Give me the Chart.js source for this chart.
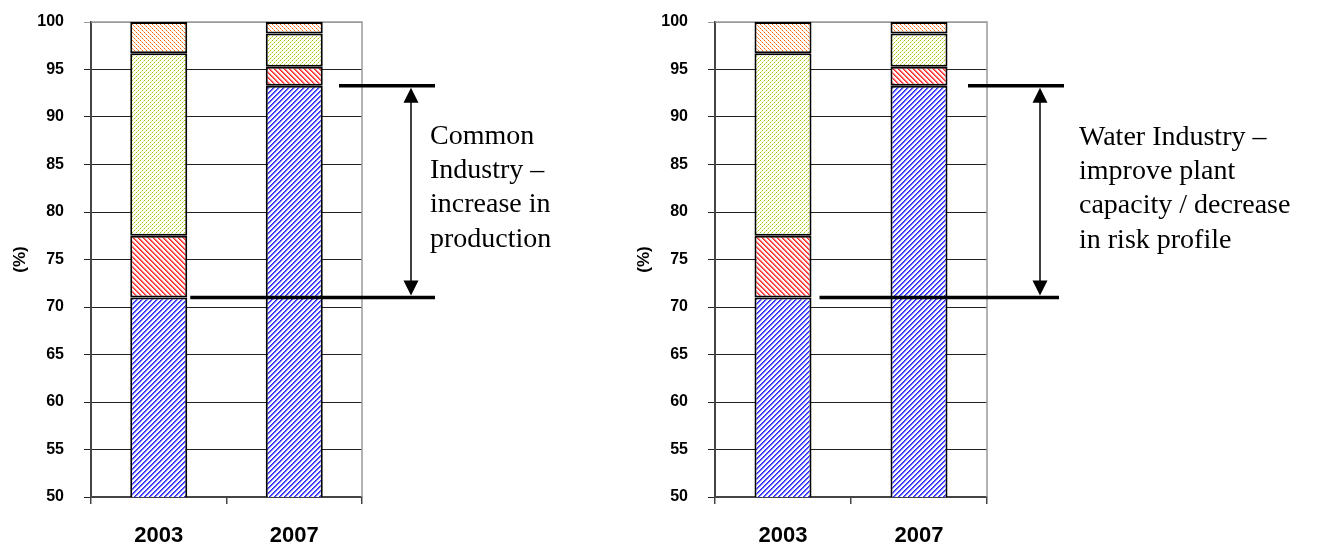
<!DOCTYPE html>
<html>
<head>
<meta charset="utf-8">
<script src="https://cdn.jsdelivr.net/npm/chart.js@4.4.1/dist/chart.umd.min.js"></script>
<style>
  html, body { margin: 0; padding: 0; background: #fff; overflow: hidden; }
  #wrap { position: relative; width: 1319px; height: 547px; }
  canvas { position: absolute; top: 0; }
</style>
</head>
<body>
<div id="wrap">
  <canvas id="common" width="624" height="547" style="left:0px"></canvas>
  <canvas id="water" width="695" height="547" style="left:624px"></canvas>
</div>
<script>
// Share of plant capacity by band, per year (percent, stacked to 100)
const categories = ['2003', '2007'];
const seriesBlue = [71.0, 93.3];
const seriesRed = [6.5, 2.0];
const seriesGreen = [19.2, 3.5];
const seriesOrange = [3.3, 1.2];
const yTickValues = [50, 55, 60, 65, 70, 75, 80, 85, 90, 95, 100];
const commonNote = ['Common', 'Industry \u2013', 'increase in', 'production'];
const waterNote = ['Water Industry \u2013', 'improve plant', 'capacity / decrease', 'in risk profile'];

const SANS = '"Liberation Sans", Arial, sans-serif';
const SERIF = '"Liberation Serif", "Times New Roman", serif';

// Pixel hatch tiles built from a per-pixel painter
function hatch(ctx, size, painter) {
  const c = document.createElement('canvas');
  c.width = size; c.height = size;
  const g = c.getContext('2d');
  const img = g.createImageData(size, size);
  for (let y = 0; y < size; y++) {
    for (let x = 0; x < size; x++) {
      const col = painter(x, y) || [255, 255, 255];
      const i = (y * size + x) * 4;
      img.data[i] = col[0]; img.data[i + 1] = col[1]; img.data[i + 2] = col[2]; img.data[i + 3] = 255;
    }
  }
  g.putImageData(img, 0, 0);
  return ctx.createPattern(c, 'repeat');
}
const mod = (a, n) => ((a % n) + n) % n;

function makePatterns(ctx) {
  return {
    blue: hatch(ctx, 5, (x, y) => {
      const k = mod(x + y, 5);
      return k === 0 ? [40, 40, 255] : k === 1 ? [90, 90, 255] : k === 2 ? [205, 205, 255] : null;
    }),
    red: hatch(ctx, 5, (x, y) => {
      const k = mod(x - y, 5);
      return k === 0 ? [255, 40, 40] : k === 1 ? [255, 100, 100] : k === 2 ? [255, 205, 205] : null;
    }),
    green: hatch(ctx, 4, (x, y) => {
      const k = mod(x + y, 4);
      if (k === 0) return x % 2 === 0 ? [160, 200, 0] : [215, 232, 140];
      return null;
    }),
    orange: hatch(ctx, 4, (x, y) => {
      const k = mod(x - y, 4);
      if (k === 0) return x % 2 === 0 ? [255, 100, 0] : [255, 175, 120];
      return null;
    })
  };
}

// Gray frame on the top and right of the plot area
const framePlugin = {
  id: 'frame',
  beforeDatasetsDraw(chart) {
    const { ctx, chartArea: a } = chart;
    ctx.save();
    ctx.strokeStyle = '#9a9a9a';
    ctx.lineWidth = 1.5;
    ctx.beginPath();
    ctx.moveTo(a.left, a.top);
    ctx.lineTo(a.right, a.top);
    ctx.lineTo(a.right, a.bottom);
    ctx.stroke();
    ctx.restore();
  }
};

// Bracket with double arrow between two levels, plus a note
const bracketPlugin = {
  id: 'bracket',
  afterDraw(chart, args, o) {
    const { ctx, chartArea: a } = chart;
    const ys = chart.scales.y;
    const topY = ys.getPixelForValue(o.topValue);
    const botY = ys.getPixelForValue(o.bottomValue);
    const bar = chart.getDatasetMeta(0).data[0];
    const botFrom = bar.x + bar.width / 2 + o.gap;
    ctx.save();
    ctx.strokeStyle = '#000';
    ctx.fillStyle = '#000';
    ctx.lineWidth = 3.5;
    ctx.beginPath();
    ctx.moveTo(a.right + o.topFrom, topY); ctx.lineTo(a.right + o.topTo, topY);
    ctx.moveTo(botFrom, botY); ctx.lineTo(a.right + o.botTo, botY);
    ctx.stroke();
    const ax = a.right + o.arrowX;
    const head = 15, half = 7.5;
    ctx.lineWidth = 1.5;
    ctx.beginPath();
    ctx.moveTo(ax, topY + head); ctx.lineTo(ax, botY - head);
    ctx.stroke();
    ctx.beginPath();
    ctx.moveTo(ax, topY + 2); ctx.lineTo(ax - half, topY + 2 + head); ctx.lineTo(ax + half, topY + 2 + head); ctx.closePath();
    ctx.moveTo(ax, botY - 2); ctx.lineTo(ax - half, botY - 2 - head); ctx.lineTo(ax + half, botY - 2 - head); ctx.closePath();
    ctx.fill();
    ctx.font = '28px ' + SERIF;
    ctx.textAlign = 'left';
    ctx.textBaseline = 'alphabetic';
    o.lines.forEach((t, i) => ctx.fillText(t, a.right + o.textX, o.textTop + i * 34.2));
    ctx.restore();
  }
};

function buildChart(id, plotRight, note, geom) {
  const canvas = document.getElementById(id);
  const ctx = canvas.getContext('2d');
  const p = makePatterns(ctx);
  const W = canvas.width;
  const ds = (label, data, bg) => ({
    label, data, backgroundColor: bg, borderColor: '#000', borderWidth: 2,
    borderSkipped: false, categoryPercentage: 1, barPercentage: 57 / ((plotRight - 91) / 2)
  });
  return new Chart(ctx, {
    type: 'bar',
    data: {
      labels: categories,
      datasets: [
        ds('Band 1', seriesBlue, p.blue),
        ds('Band 2', seriesRed, p.red),
        ds('Band 3', seriesGreen, p.green),
        ds('Band 4', seriesOrange, p.orange)
      ]
    },
    options: {
      responsive: false,
      animation: false,
      events: [],
      layout: { padding: { left: 0, top: 22, right: W - plotRight, bottom: 0 } },
      plugins: {
        legend: { display: false },
        tooltip: { enabled: false },
        bracket: Object.assign({
          topValue: seriesBlue[1],
          bottomValue: seriesBlue[0],
          lines: note
        }, geom)
      },
      scales: {
        x: {
          stacked: true,
          offset: true,
          afterFit(s) { s.height = 50; s.paddingLeft = 0; s.paddingRight = 0; },
          grid: { offset: true, drawOnChartArea: false, drawTicks: true, tickLength: 7, color: '#444', lineWidth: 1.5 },
          border: { display: true, color: '#444', width: 2 },
          ticks: { color: '#000', font: { family: SANS, size: 22, weight: 'bold' }, padding: 19 }
        },
        y: {
          stacked: true,
          min: 50,
          max: 100,
          afterBuildTicks(s) { s.ticks = yTickValues.map(v => ({ value: v })); },
          afterFit(s) { s.width = 91; s.paddingTop = 0; s.paddingBottom = 0; },
          grid: {
            color: c => (c.tick && c.tick.value === 100 ? '#9a9a9a' : '#222'),
            lineWidth: 1,
            tickLength: 7
          },
          border: { display: true, color: '#444', width: 2 },
          ticks: { color: '#000', font: { family: SANS, size: 16, weight: 'bold' }, padding: 20 },
          title: {
            display: true,
            text: '(%)',
            color: '#000',
            font: { family: SANS, size: 17, weight: 'bold' },
            padding: { top: 10, bottom: 0 }
          }
        }
      }
    },
    plugins: [framePlugin, bracketPlugin]
  });
}

buildChart('common', 362, commonNote, { topFrom: -23, topTo: 73, botTo: 73, gap: 3, arrowX: 49, textX: 68, textTop: 144 });
buildChart('water', 363, waterNote, { topFrom: -19, topTo: 77, botTo: 72, gap: 8, arrowX: 53, textX: 92, textTop: 145 });
</script>
</body>
</html>
